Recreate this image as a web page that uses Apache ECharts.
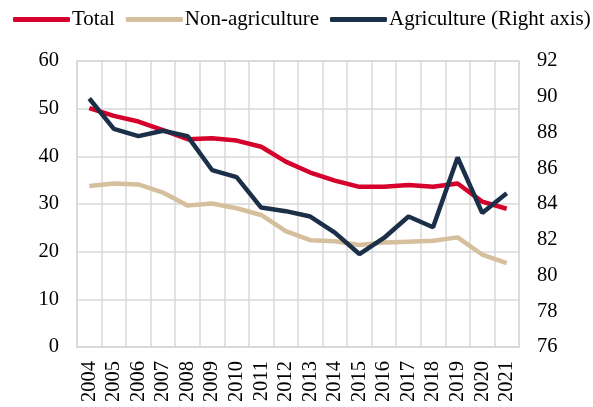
<!DOCTYPE html>
<html>
<head>
<meta charset="utf-8">
<script src="https://cdn.jsdelivr.net/npm/echarts@6/dist/echarts.min.js"></script>
<style>
  html, body { margin: 0; padding: 0; background: #fff; }
  #chart { width: 593px; height: 407px; }
</style>
</head>
<body>
<div id="chart"></div>
<script>
const years = ['2004', '2005', '2006', '2007', '2008', '2009', '2010', '2011', '2012',
  '2013', '2014', '2015', '2016', '2017', '2018', '2019', '2020', '2021']
const total = [50.1, 48.5, 47.3, 45.5, 43.6, 43.8, 43.3, 42.0, 38.9,
  36.6, 34.9, 33.6, 33.6, 34.0, 33.6, 34.3, 30.5, 29.0]
const nonAgri = [33.8, 34.3, 34.1, 32.4, 29.7, 30.1, 29.1, 27.7, 24.3,
  22.4, 22.2, 21.4, 21.9, 22.1, 22.3, 23.0, 19.4, 17.6]
const agri = [89.9, 88.2, 87.8, 88.1, 87.8, 85.9, 85.5, 83.8, 83.6,
  83.3, 82.4, 81.2, 82.1, 83.3, 82.7, 86.6, 83.5, 84.6]
const leftTicks = { min: 0, max: 60, interval: 10 }
const rightTicks = { min: 76, max: 92, interval: 2 }

const font = 'Liberation Serif'
const gridGrey = '#d9d9d9'

const chart = echarts.init(document.getElementById('chart'))
chart.setOption({
  animation: false,
  textStyle: { fontFamily: font },
  legend: {
    left: 8,
    top: 4,
    width: 800,
    itemWidth: 57,
    itemHeight: 5,
    itemGap: 11,
    icon: 'roundRect',
    textStyle: { fontFamily: font, fontSize: 21, color: '#000', padding: [0, 0, 0, -3] },
    data: ['Total', 'Non-agriculture', 'Agriculture (Right axis)']
  },
  grid: {
    left: 77,
    right: 74,
    top: 61,
    bottom: 60,
    show: true,
    borderColor: gridGrey,
    borderWidth: 1.5
  },
  xAxis: {
    type: 'category',
    data: years,
    boundaryGap: true,
    axisLine: { lineStyle: { color: gridGrey, width: 1.5 } },
    axisTick: { show: false },
    splitLine: { show: true, lineStyle: { color: gridGrey, width: 1.5 } },
    axisLabel: { rotate: 90, margin: 14, fontSize: 20.5, color: '#000', fontFamily: font, interval: 0 }
  },
  yAxis: [
    {
      type: 'value',
      min: leftTicks.min,
      max: leftTicks.max,
      interval: leftTicks.interval,
      axisLine: { show: false },
      axisTick: { show: false },
      splitLine: { lineStyle: { color: gridGrey, width: 1.5 } },
      axisLabel: { margin: 18, fontSize: 20.5, color: '#000', fontFamily: font }
    },
    {
      type: 'value',
      min: rightTicks.min,
      max: rightTicks.max,
      interval: rightTicks.interval,
      axisLine: { show: false },
      axisTick: { show: false },
      splitLine: { show: false },
      axisLabel: { margin: 18, fontSize: 20.5, color: '#000', fontFamily: font }
    }
  ],
  series: [
    {
      name: 'Total',
      type: 'line',
      data: total,
      symbol: 'none',
      color: '#d5002b',
      lineStyle: { width: 4.5 },
      z: 3
    },
    {
      name: 'Non-agriculture',
      type: 'line',
      data: nonAgri,
      symbol: 'none',
      color: '#d6bf9c',
      lineStyle: { width: 4.5 },
      z: 2
    },
    {
      name: 'Agriculture (Right axis)',
      type: 'line',
      yAxisIndex: 1,
      data: agri,
      symbol: 'none',
      color: '#1b3048',
      lineStyle: { width: 4.5 },
      z: 4
    }
  ]
})
</script>
</body>
</html>
